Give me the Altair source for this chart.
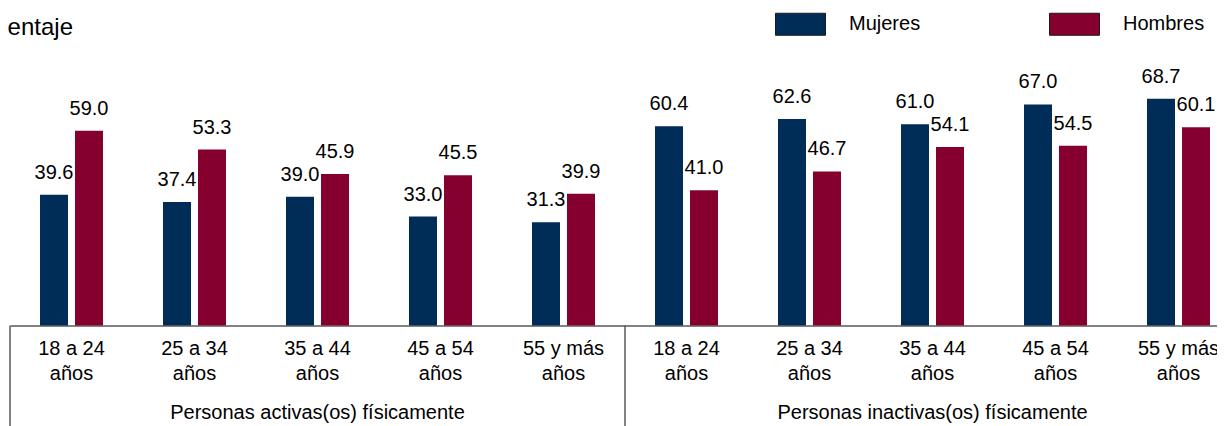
import altair as alt
import pandas as pd

groups = ["Personas activas(os) físicamente", "Personas inactivas(os) físicamente"]
ages = ["18 a 24~años", "25 a 34~años", "35 a 44~años", "45 a 54~años", "55 y más~años"]
sexes = ["Mujeres", "Hombres"]
mujeres = [39.6, 37.4, 39.0, 33.0, 31.3, 60.4, 62.6, 61.0, 67.0, 68.7]
hombres = [59.0, 53.3, 45.9, 45.5, 39.9, 41.0, 46.7, 54.1, 54.5, 60.1]
colors = ["#002D57", "#85002F"]
title_text = "Porcentaje"

FONT = "Liberation Sans"

keys = [f"{gi}|{a}" for gi in range(len(groups)) for a in ages]
rows = []
for i, k in enumerate(keys):
    rows.append({"key": k, "sex": "Mujeres", "value": mujeres[i]})
    rows.append({"key": k, "sex": "Hombres", "value": hombres[i]})
df = pd.DataFrame(rows)

grp_df = pd.DataFrame({"key": [f"{gi}|{ages[2]}" for gi in range(len(groups))], "label": groups})
sep_df = pd.DataFrame({"key": [f"{gi}|{ages[0]}" for gi in range(len(groups))]})
title_df = pd.DataFrame({"t": [title_text]})

xscale = alt.Scale(range=[0, 1230], paddingInner=0, paddingOuter=0)
offscale = alt.Scale(paddingInner=0.2, paddingOuter=0.857)
yscale = alt.Scale(domain=[0, 90])

X = alt.X("key:N", sort=keys, scale=xscale,
          axis=alt.Axis(title=None, ticks=False, domainColor="#595959", domainWidth=1.5,
                        labelExpr="split(split(datum.label, '|')[1], '~')",
                        labelFont=FONT, labelFontSize=20, labelColor="#000000",
                        labelPadding=13, labelLineHeight=25, labelAngle=0,
                        labelOverlap=False, labelFlush=False))
XO = alt.XOffset("sex:N", sort=sexes, scale=offscale)
Y = alt.Y("value:Q", scale=yscale, axis=None)

bars = alt.Chart(df).mark_bar().encode(
    x=X, xOffset=XO, y=Y,
    color=alt.Color("sex:N", sort=sexes, scale=alt.Scale(domain=sexes, range=colors),
                    legend=alt.Legend(orient="none", legendX=765, legendY=-30,
                                      direction="horizontal", title=None,
                                      symbolType="M-1,-0.44H1V0.44H-1Z", symbolSize=2500,
                                      symbolStrokeColor="#1a1a1a", symbolStrokeWidth=1,
                                      symbolOpacity=1,
                                      labelFont=FONT, labelFontSize=20, labelColor="#000000",
                                      labelOffset=23, columnPadding=126)),
)

labels = alt.Chart(df).mark_text(font=FONT, fontSize=20, color="#000000",
                                 baseline="alphabetic", dy=-16).encode(
    x=alt.X("key:N", sort=keys), xOffset=XO, y=Y,
    text=alt.Text("value:Q", format=".1f"),
)

seps = alt.Chart(sep_df).mark_rule(color="#595959", strokeWidth=1.5).encode(
    x=alt.X("key:N", sort=keys, bandPosition=0),
    y=alt.value(297), y2=alt.value(410),
)

grp = alt.Chart(grp_df).mark_text(font=FONT, fontSize=20, color="#000000",
                                  baseline="alphabetic").encode(
    x=alt.X("key:N", sort=keys), y=alt.value(390.5), text="label:N",
)

ttl = alt.Chart(title_df).mark_text(font=FONT, fontSize=24, color="#000000",
                                    align="right", baseline="alphabetic").encode(
    x=alt.value(63), y=alt.value(6.5), text="t:N",
)

chart = alt.layer(bars, labels, seps, grp, ttl).properties(
    width=1207, height=297,
    autosize=alt.AutoSizeParams(type="none"),
    padding={"left": 2, "top": 20.5, "right": 0, "bottom": 100.5},
).configure_view(stroke=None)

chart.save("out.html", embed_options={"renderer": "svg", "actions": False})
